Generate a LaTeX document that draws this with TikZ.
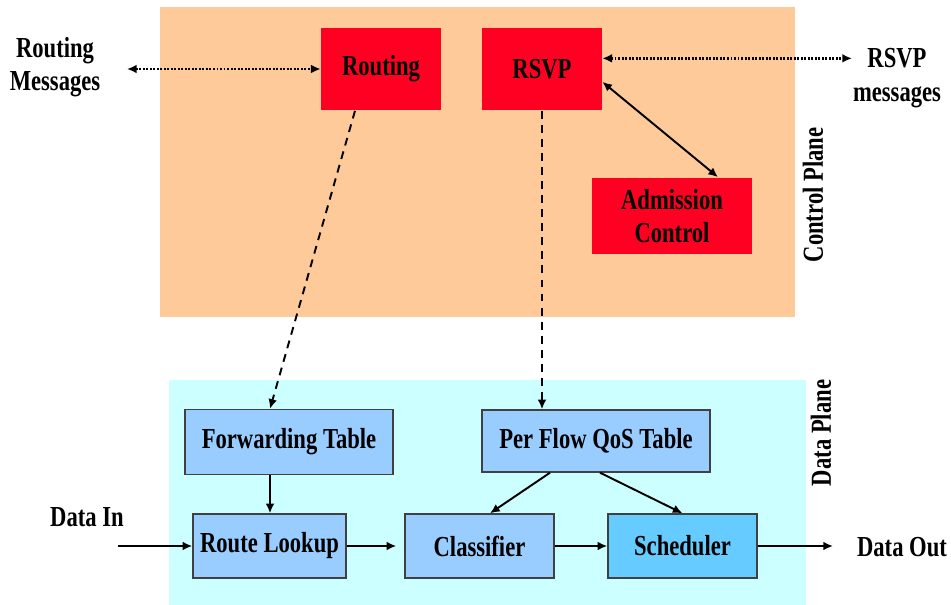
\documentclass[tikz,border=0pt]{standalone}
\usepackage{fontspec}
\setmainfont[FakeStretch=0.78]{Liberation Serif}
\usetikzlibrary{arrows.meta}
\definecolor{ctrlpeach}{RGB}{255,202,153}
\definecolor{datacyan}{RGB}{204,255,255}
\definecolor{ctrlred}{RGB}{255,0,34}
\definecolor{tableblue}{RGB}{153,204,255}
\definecolor{schedblue}{RGB}{102,204,255}

\begin{document}
\begin{tikzpicture}[
      x=0.02cm, y=-0.02cm,
      font=\fontsize{16.5}{19}\selectfont\bfseries,
      >={Latex[length=5.5pt,width=5pt]},
      ctrlbox/.style={rectangle, fill=ctrlred, inner sep=0pt, align=center},
      databox/.style={rectangle, draw=black!75, line width=0.8pt, fill=tableblue,
                      inner sep=0pt, align=center},
      label/.style={align=center, inner sep=0pt},
      flow/.style={->, line width=1.1pt},
      sigmsg/.style={<->, line width=1.3pt, dash pattern=on 1.1pt off 0.9pt},
      setup/.style={->, line width=1.1pt, dash pattern=on 4.5pt off 3.5pt}
  ]
  \useasboundingbox (0,0) rectangle (951,605);

  % planes
  \fill[ctrlpeach] (160,7) rectangle (795,317);
  \fill[datacyan]  (169,380) rectangle (806,605);
  \node[label, rotate=90] (cplane) at (813,195) {Control Plane};
  \node[label, rotate=90] (dplane) at (821,433) {Data Plane};

  % control plane
  \node[ctrlbox, minimum width=2.4cm, minimum height=1.66cm]  (routing) at (381,69)  {Routing};
  \node[ctrlbox, minimum width=2.4cm, minimum height=1.66cm]  (rsvp)    at (542,69)  {RSVP};
  \node[ctrlbox, minimum width=3.2cm, minimum height=1.54cm]  (adm)     at (672,216) {Admission\\Control};

  % data plane
  \node[databox, minimum width=4.16cm, minimum height=1.3cm]  (fwd)     at (289,442)   {Forwarding Table};
  \node[databox, minimum width=4.56cm, minimum height=1.24cm] (qos)     at (596,441)   {Per Flow QoS Table};
  \node[databox, minimum width=3.06cm, minimum height=1.28cm] (lookup)  at (269.5,546) {Route Lookup};
  \node[databox, minimum width=2.98cm, minimum height=1.28cm] (classif) at (479.5,546) {Classifier};
  \node[databox, fill=schedblue, minimum width=2.98cm, minimum height=1.28cm] (sched) at (682.5,546) {Scheduler};

  % outside labels
  \node[label] (rmsg)    at (55,67)  {Routing\\Messages};
  \node[label] (smsg)    at (897,78) {RSVP\\messages};
  \node[label] (datain)  at (87,517) {Data In};
  \node[label] (dataout) at (902,547) {Data Out};
  \coordinate (rmsgend) at (127,69);
  \coordinate (smsgend) at (852,59);
  \coordinate (inend)   at (118,546);
  \coordinate (outend)  at (833,546);

  % signalling
  \draw[sigmsg] (rmsgend) -- (routing.west);
  \draw[sigmsg] (rsvp.10) -- (rsvp.10 -| smsgend);
  \draw[<->, line width=1.1pt] (rsvp.-12) -- ([xshift=0.92cm]adm.north);

  % table setup
  \draw[setup] ([xshift=-0.52cm]routing.south) -- ([xshift=-0.38cm]fwd.north);
  \draw[setup] (rsvp.south) -- (rsvp.south |- qos.north);

  % forwarding path
  \draw[flow] ([xshift=-0.38cm]fwd.south) -- ([xshift=-0.38cm]fwd.south |- lookup.north);
  \draw[flow] ([xshift=-0.92cm]qos.south) -- ([xshift=0.21cm]classif.north);
  \draw[flow] ([xshift=0.08cm]qos.south) -- (sched.north);
  \draw[flow] (inend) -- (lookup.west);
  \draw[flow, shorten >=0.16cm] (lookup.east) -- (classif.west);
  \draw[flow] (classif.east) -- (sched.west);
  \draw[flow] (sched.east) -- (outend);
\end{tikzpicture}
\end{document}
